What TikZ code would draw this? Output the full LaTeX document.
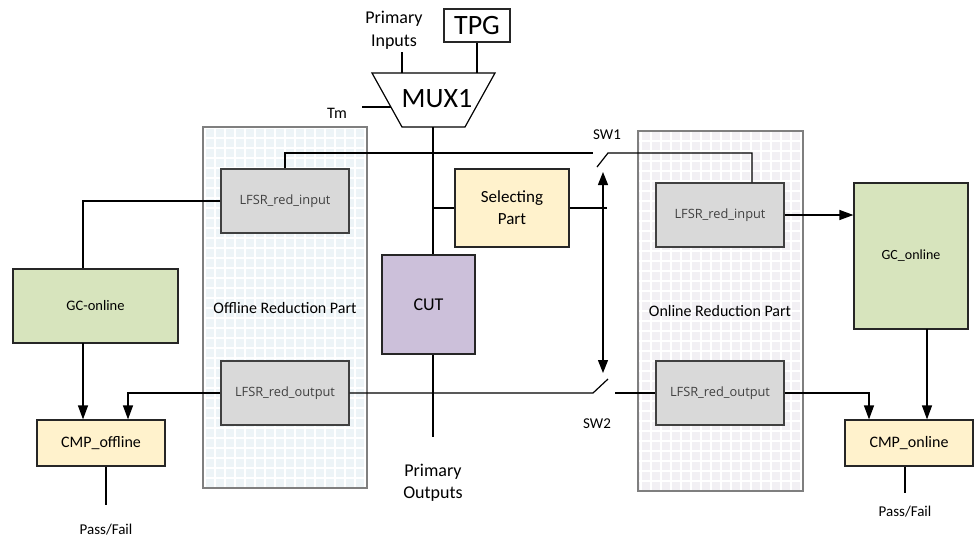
\documentclass[tikz,border=0pt]{standalone}
\usepackage{fontspec}
\setmainfont{Carlito}
\newfontfamily\lfsrfont{Open Sans}
\usetikzlibrary{arrows.meta}
\definecolor{cutfill}{HTML}{CCC0DA}
\definecolor{yelfill}{HTML}{FFF2CC}
\definecolor{grnfill}{HTML}{D7E4BD}
\definecolor{lfsrfill}{HTML}{D9D9D9}
\definecolor{offfill}{HTML}{EDF4F7}
\definecolor{onfill}{HTML}{F2F0F4}
\definecolor{partline}{HTML}{7F7F7F}
\definecolor{txtgray}{HTML}{404040}
\begin{document}
\begin{tikzpicture}[x=1pt,y=-1pt,
  wire/.style={line width=1.2pt, draw=black},
  arr/.style={wire, -{Triangle[width=10pt,length=14pt]}},
  dbl/.style={wire, {Triangle[width=10pt,length=13pt]}-{Triangle[width=10pt,length=13pt]}},
  blk/.style={draw=black!85, line width=1.2pt, inner sep=0pt, align=center},
  lfsr/.style={blk, draw=txtgray, fill=lfsrfill, minimum width=128pt, minimum height=64pt,
    font=\lfsrfont\fontsize{12.8}{14}\selectfont, text=txtgray},
  part/.style={draw=partline, line width=1.4pt, inner sep=0pt,
    path picture={\draw[white, line width=2pt, step=10pt]
      (path picture bounding box.south west) grid (path picture bounding box.north east);}},
  lbl/.style={inner sep=0pt, align=center}
]
\useasboundingbox (0,0) rectangle (975,539);

% reduction parts
\node[part, fill=offfill, minimum width=164pt, minimum height=361pt] (offpart) at (285,307.5) {};
\node[part, fill=onfill, minimum width=165pt, minimum height=360pt] (onpart) at (720.5,311) {};
\node[lbl, font=\fontsize{16}{18}\selectfont] (offlbl) at (285,308) {Offline Reduction Part};
\node[lbl, font=\fontsize{16}{18}\selectfont] (onlbl) at (720,311) {Online Reduction Part};

% top
\node[blk, fill=white, minimum width=66pt, minimum height=33pt, font=\fontsize{28}{30}\selectfont] (tpg) at (477,25.5) {TPG};
\node[lbl, font=\fontsize{18}{23}\selectfont] (pi) at (394,30) {Primary\\Inputs};
\coordinate (mtl) at (372,73);
\coordinate (mtr) at (495,73);
\coordinate (mbr) at (465,127);
\coordinate (mbl) at (402,127);
\draw[wire, fill=white] (mtl) -- (mtr) -- (mbr) -- (mbl) -- cycle;
\node[lbl, font=\fontsize{28}{30}\selectfont] (mux) at (437,99) {MUX1};
\coordinate (pitop) at (402,52);
\coordinate (muxpi) at (402,73);
\coordinate (muxtpg) at (477,73);
\coordinate (muxtm) at (391,107);
\coordinate (tmend) at (362,107);
\coordinate (muxout) at (433,127);
\node[lbl, font=\fontsize{16}{18}\selectfont] (tm) at (337,113) {Tm};

% centre blocks
\node[blk, fill=yelfill, minimum width=114pt, minimum height=78pt, font=\fontsize{17}{22}\selectfont] (sel) at (512,208) {Selecting\\Part};
\node[blk, fill=cutfill, minimum width=93pt, minimum height=99pt, font=\fontsize{18}{20}\selectfont] (cut) at (428.5,304.5) {CUT};
\coordinate (poend) at (433,437);
\node[lbl, font=\fontsize{18}{22}\selectfont] (po) at (433,483) {Primary\\Outputs};

% LFSR blocks
\node[lfsr] (offin) at (285,201) {LFSR\_red\_input};
\node[lfsr] (offout) at (285,393) {LFSR\_red\_output};
\node[lfsr] (onin) at (720,215) {LFSR\_red\_input};
\node[lfsr] (onout) at (720,393) {LFSR\_red\_output};

% left side
\node[blk, fill=grnfill, minimum width=165pt, minimum height=74pt, font=\fontsize{14.5}{16}\selectfont] (gcoff) at (95.5,306) {GC-online};
\node[blk, fill=yelfill, minimum width=128pt, minimum height=46pt, font=\fontsize{16}{18}\selectfont] (cmpoff) at (101,443) {CMP\_offline};
\node[lbl, font=\fontsize{15}{17}\selectfont] (pfoff) at (106,530) {Pass/Fail};

% right side
\node[blk, fill=grnfill, minimum width=114pt, minimum height=146pt, font=\fontsize{14}{16}\selectfont] (gcon) at (911,256) {GC\_online};
\node[blk, fill=yelfill, minimum width=128pt, minimum height=46pt, font=\fontsize{16}{18}\selectfont] (cmpon) at (909,443) {CMP\_online};
\node[lbl, font=\fontsize{15}{17}\selectfont] (pfon) at (905,512) {Pass/Fail};

% switches
\node[lbl, font=\fontsize{15}{17}\selectfont] (sw1) at (607,135) {SW1};
\node[lbl, font=\fontsize{15}{17}\selectfont] (sw2) at (597,424) {SW2};
\coordinate (sw1a) at (593,153);
\coordinate (sw1b) at (597,167);
\coordinate (sw1c) at (608,153);
\coordinate (sw1r) at (752,153);
\coordinate (sw2a) at (593,393);
\coordinate (sw2b) at (608,379);
\coordinate (sw2c) at (615,393);
\coordinate (dat) at (603,172);
\coordinate (dab) at (603,373);
\coordinate (selend) at (607,208);

% connectors
\draw[wire] (pitop) -- (muxpi);
\draw[wire] (tpg.south -| muxtpg) -- (muxtpg);
\draw[wire] (tmend) -- (muxtm);
\draw[wire] (muxout) -- (muxout |- cut.north);
\draw[wire] (cut.south -| poend) -- (poend);
\draw[wire] (offin.north) -- (offin.north |- sw1a) -- (sw1a);
\draw[wire] (sw1b) -- (sw1c) -- (sw1r) -- (sw1r |- onin.north);
\draw[wire] (sel.west -| muxout) -- (sel.west);
\draw[wire] (sel.east) -- (selend);
\draw[dbl] (dat) -- (dab);
\draw[wire] (offout.east) -- (sw2a) -- (sw2b);
\draw[wire] (sw2c) -- (onout.west);

\coordinate (onoutR) at (869,393);
\coordinate (gconB) at (927,329);
\coordinate (pfonend) at (905,493);
\draw[arr] (onin.east) -- (gcon.west |- onin.east);
\draw[arr] (onout.east) -- (onoutR) -- (onoutR |- cmpon.north);
\draw[arr] (gconB) -- (gconB |- cmpon.north);
\draw[wire] (pfonend |- cmpon.south) -- (pfonend);

\coordinate (offinL) at (83,201);
\coordinate (gcoffB) at (83,343);
\coordinate (offoutL) at (128,393);
\coordinate (pfoffend) at (106,505);
\draw[wire] (offin.west) -- (offinL) -- (offinL |- gcoff.north);
\draw[arr] (gcoffB) -- (gcoffB |- cmpoff.north);
\draw[arr] (offout.west) -- (offoutL) -- (offoutL |- cmpoff.north);
\draw[wire] (pfoffend |- cmpoff.south) -- (pfoffend);
\end{tikzpicture}
\end{document}
